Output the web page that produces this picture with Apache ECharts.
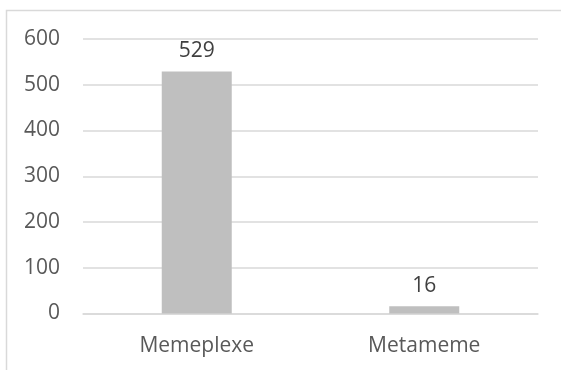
<!DOCTYPE html>
<html>
<head>
<meta charset="utf-8">
<script src="https://cdn.jsdelivr.net/npm/echarts@6/dist/echarts.min.js"></script>
<style>
  html, body { margin: 0; padding: 0; background: #fff; }
  #chart { width: 561px; height: 370px; }
</style>
</head>
<body>
<div id="chart"></div>
<script>
// Counts per category
const categories = ['Memeplexe', 'Metameme'];
const counts = [529, 16];
const yTicks = { min: 0, max: 600, interval: 100 };

const font = '"Open Sans", "Noto Sans", sans-serif';
const chart = echarts.init(document.getElementById('chart'), null, { renderer: 'canvas' });

chart.setOption({
  animation: false,
  backgroundColor: '#ffffff',
  graphic: [{
    type: 'rect',
    shape: { x: 6.5, y: 10.5, width: 600, height: 400 },
    style: { fill: 'none', stroke: '#d9d9d9', lineWidth: 1.5 },
    silent: true
  }],
  grid: { left: 83, right: 23, top: 39, bottom: 56.5 },
  xAxis: {
    type: 'category',
    data: categories,
    axisLine: { show: true, lineStyle: { color: '#d9d9d9', width: 1.5 } },
    axisTick: { show: false },
    axisLabel: { color: '#595959', fontSize: 21, fontFamily: font, margin: 22 }
  },
  yAxis: {
    type: 'value',
    min: yTicks.min,
    max: yTicks.max,
    interval: yTicks.interval,
    axisLine: { show: false },
    axisTick: { show: false },
    splitLine: { lineStyle: { color: '#d9d9d9', width: 1.5 } },
    axisLabel: { color: '#595959', fontSize: 21, fontFamily: font, margin: 23 }
  },
  series: [{
    type: 'bar',
    data: counts,
    barWidth: 70,
    itemStyle: { color: '#bfbfbf' },
    label: {
      show: true,
      position: 'top',
      distance: 10,
      color: '#404040',
      fontSize: 21,
      fontFamily: font
    }
  }]
});
</script>
</body>
</html>
